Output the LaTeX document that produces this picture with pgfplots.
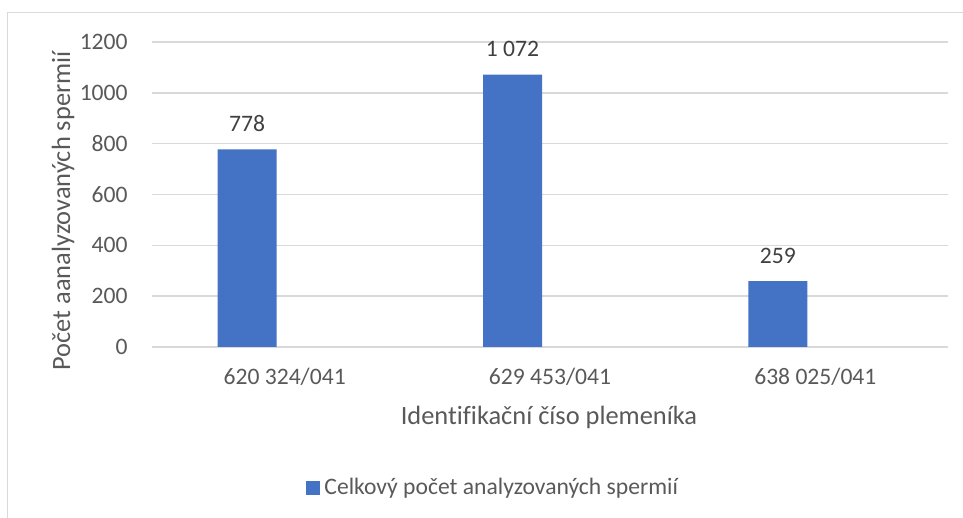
\documentclass[border=0pt]{standalone}
\usepackage{pgfplots}
\pgfplotsset{compat=1.18}
\usepackage{fontspec}
\setmainfont{Carlito}[Ligatures=NoCommon]
\definecolor{barblue}{HTML}{4472C4}
\definecolor{txt}{HTML}{595959}
\definecolor{lbl}{HTML}{404040}
\definecolor{gridc}{HTML}{D9D9D9}
\begin{document}
\begin{tikzpicture}
\useasboundingbox (0,0) rectangle (481.5pt,259pt);
\draw[gridc, line width=0.5pt] (3.5pt,0pt) -- (3.5pt,252.5pt) -- (481.5pt,252.5pt);
\begin{axis}[
  at={(76pt,85.5pt)}, anchor=south west,
  scale only axis, width=398pt, height=152.5pt,
  xmin=-0.5, xmax=2.5, ymin=0, ymax=1200,
  ytick={0,200,...,1200},
  xtick={0,1,2},
  xticklabels={620 324/041, 629 453/041, 638 025/041},
  axis line style={draw=none},
  major tick length=0pt,
  ymajorgrids, grid style={gridc, line width=0.75pt},
  /pgf/number format/assume math mode=true,
  /pgf/number format/1000 sep={},
  yticklabel style={font=\fontsize{11.8}{14}\selectfont, text=txt, anchor=east, inner sep=0pt, xshift=-12pt},
  xticklabel style={font=\fontsize{11.8}{14}\selectfont, text=txt, anchor=base, inner sep=0pt, yshift=-19pt},
  every axis x label/.style={at={(rel axis cs:0.4987,-0.2557)}, anchor=base, font=\fontsize{13.2}{16}\selectfont, text=txt, inner sep=0pt},
  every axis y label/.style={at={(rel axis cs:-0.1030,0.4459)}, rotate=90, anchor=base, font=\fontsize{13.2}{16}\selectfont, text=txt, inner sep=0pt},
  xlabel={Identifikační číso plemeníka},
  ylabel={Počet aanalyzovaných spermií},
  nodes near coords,
  point meta=explicit symbolic,
  every node near coord/.append style={font=\fontsize{11.8}{14}\selectfont, text=lbl, anchor=south, inner sep=0pt, yshift=8.7pt, xshift=-18.75pt},
  legend style={at={(rel axis cs:0.1935,-0.4623)}, anchor=west, draw=none, fill=none, inner sep=0pt, font=\fontsize{11.8}{14}\selectfont, text=txt},
  legend image code/.code={\fill[barblue] (0pt,-3.5pt) rectangle (7pt,3.5pt);},
]
\addplot[ybar, bar width=29.5pt, bar shift=-18.75pt, fill=barblue, draw=none]
  table[x=x, y=y, meta=lab, col sep=comma] {
x,y,lab
0,778,778
1,1072,1 072
2,259,259
};
\addlegendentry{Celkový počet analyzovaných spermií}
\end{axis}
\end{tikzpicture}
\end{document}
